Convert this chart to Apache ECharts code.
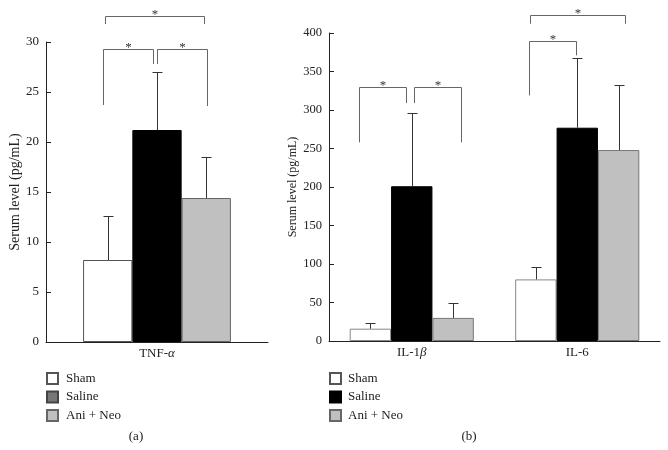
<!DOCTYPE html>
<html>
<head>
<meta charset="utf-8">
<script src="https://cdn.jsdelivr.net/npm/echarts@6/dist/echarts.min.js"></script>
<style>html,body{margin:0;padding:0;background:#fff}#c{width:668px;height:450px}</style>
</head>
<body>
<div id="c"></div>
<script>
// ---- data ----
const categoriesA = ['TNF-α'];
const categoriesB = ['IL-1β', 'IL-6'];
const groupNames = ['Sham', 'Saline', 'Ani + Neo'];
const yTicksA = [0, 5, 10, 15, 20, 25, 30];
const yTicksB = [0, 50, 100, 150, 200, 250, 300, 350, 400];

const shamA = [8.2];
const salineA = [21.2];
const aniA = [14.4];
const shamErrA = [4.4];
const salineErrA = [5.8];
const aniErrA = [4.1];

const shamB = [16, 80];
const salineB = [201, 277];
const aniB = [30, 248];
const shamErrB = [7, 16];
const salineErrB = [95, 91];
const aniErrB = [20, 85];

// significance brackets: [category, fromBar, toBar, top, leftLegEnd, rightLegEnd]
const bracketsA = [
  [0, -1.05, 0.96, 32.6, 31.8, 31.8],
  [0, -1.1, -0.09, 29.3, 23.7, 27.8],
  [0, -0.01, 1.01, 29.3, 27.8, 23.6]
];
const bracketsB = [
  [0, -1.27, -0.13, 330, 258, 309],
  [0, 0.05, 1.2, 330, 309, 258],
  [1, -1.15, 1.15, 423, 412, 412],
  [1, -1.17, -0.02, 390, 319, 371]
];

// ---- chart ----
const FONT = '"Liberation Serif", "DejaVu Serif", serif';
const gapA = 0.334, gapB = 0.25;

function greekFmt(v) {
  return v.replace(/([αβ])/g, '{i|$1}');
}

function errRender(gap) {
  return function (params, api) {
    const c = api.value(0), v = api.value(1), e = api.value(2), off = api.value(3);
    const band = api.size([1, 0])[0];
    const bw = band * (1 - gap) / 3;
    const x = Math.round(api.coord([c, 0])[0] + off * bw) + 0.5;
    const y0 = api.coord([c, v])[1];
    const y1 = Math.round(api.coord([c, v + e])[1]) + 0.5;
    return {
      type: 'group',
      children: [
        { type: 'line', shape: { x1: x, y1: y0, x2: x, y2: y1 }, style: { stroke: '#333', lineWidth: 1 } },
        { type: 'line', shape: { x1: x - 5, y1: y1, x2: x + 5, y2: y1 }, style: { stroke: '#333', lineWidth: 1 } }
      ]
    };
  };
}

function bracketRender(gap) {
  return function (params, api) {
    const c = api.value(0);
    const band = api.size([1, 0])[0];
    const bw = band * (1 - gap) / 3;
    const cx = api.coord([c, 0])[0];
    const x1 = Math.round(cx + api.value(1) * bw) + 0.5;
    const x2 = Math.round(cx + api.value(2) * bw) + 0.5;
    const yt = Math.round(api.coord([c, api.value(3)])[1]) + 0.5;
    const yl = api.coord([c, api.value(4)])[1];
    const yr = api.coord([c, api.value(5)])[1];
    return {
      type: 'group',
      children: [
        { type: 'polyline', shape: { points: [[x1, yl], [x1, yt], [x2, yt], [x2, yr]] },
          style: { stroke: '#666', fill: null, lineWidth: 1 } },
        { type: 'text', style: { text: '*', x: (x1 + x2) / 2, y: yt - 2, align: 'center', verticalAlign: 'middle',
          fontSize: 13, fontFamily: FONT, fill: '#333' } }
      ]
    };
  };
}

function errData(vals, errs, off) {
  return vals.map((v, i) => [i, v, errs[i], off]);
}

const chart = echarts.init(document.getElementById('c'), null, { renderer: 'canvas' });

const barStyles = [
  { color: '#ffffff', borderColor: '#555', borderWidth: 1 },
  { color: '#000000', borderColor: '#000', borderWidth: 1 },
  { color: '#c0c0c0', borderColor: '#666', borderWidth: 1 }
];
const barStylesB = [
  { color: '#ffffff', borderColor: '#888', borderWidth: 1 },
  { color: '#000000', borderColor: '#000', borderWidth: 1 },
  { color: '#c0c0c0', borderColor: '#777', borderWidth: 1 }
];

const valsA = [shamA, salineA, aniA], errsA = [shamErrA, salineErrA, aniErrA];
const valsB = [shamB, salineB, aniB], errsB = [shamErrB, salineErrB, aniErrB];

const series = [];
groupNames.forEach((n, k) => {
  series.push({ type: 'bar', name: n, xAxisIndex: 0, yAxisIndex: 0, data: valsA[k],
    barGap: '0%', barCategoryGap: (gapA * 100) + '%', itemStyle: barStyles[k], silent: true, animation: false });
});
groupNames.forEach((n, k) => {
  series.push({ type: 'bar', name: n, xAxisIndex: 1, yAxisIndex: 1, data: valsB[k],
    barGap: '0%', barCategoryGap: (gapB * 100) + '%', itemStyle: barStylesB[k], silent: true, animation: false });
});
groupNames.forEach((n, k) => {
  series.push({ type: 'custom', xAxisIndex: 0, yAxisIndex: 0, renderItem: errRender(gapA), z: 5,
    data: errData(valsA[k], errsA[k], k - 1), encode: { x: 0, y: 1 }, silent: true, animation: false });
  series.push({ type: 'custom', xAxisIndex: 1, yAxisIndex: 1, renderItem: errRender(gapB), z: 5,
    data: errData(valsB[k], errsB[k], k - 1), encode: { x: 0, y: 1 }, silent: true, animation: false });
});
series.push({ type: 'custom', xAxisIndex: 0, yAxisIndex: 0, renderItem: bracketRender(gapA), z: 6, clip: false,
  data: bracketsA, encode: { x: 0, y: 3 }, silent: true, animation: false });
series.push({ type: 'custom', xAxisIndex: 1, yAxisIndex: 1, renderItem: bracketRender(gapB), z: 6, clip: false,
  data: bracketsB, encode: { x: 0, y: 3 }, silent: true, animation: false });

function xAxisCfg(idx, cats) {
  return {
    type: 'category', gridIndex: idx, data: cats,
    axisLine: { lineStyle: { color: '#222', width: 1 } },
    axisTick: { show: false },
    axisLabel: { fontFamily: FONT, fontSize: 13, color: '#222', margin: 5, formatter: greekFmt,
      rich: { i: { fontStyle: 'italic', fontFamily: FONT, fontSize: 13, color: '#222' } } }
  };
}
function yAxisCfg(idx, ticks, fs, nfs, gap) {
  return {
    type: 'value', gridIndex: idx, min: ticks[0], max: ticks[ticks.length - 1], interval: ticks[1] - ticks[0],
    name: 'Serum level (pg/mL)', nameLocation: 'middle', nameGap: gap,
    nameTextStyle: { fontFamily: FONT, fontSize: nfs, color: '#222' },
    axisLine: { show: true, lineStyle: { color: '#222', width: 1 } },
    axisTick: { show: true, inside: true, length: 5, lineStyle: { color: '#222' } },
    axisLabel: { fontFamily: FONT, fontSize: fs, color: '#222', margin: 7 },
    splitLine: { show: false }
  };
}

const legendBase = {
  orient: 'vertical', itemWidth: 11, itemHeight: 11, itemGap: 5.5, padding: 0, icon: 'rect',
  selectedMode: false,
  textStyle: { fontFamily: FONT, fontSize: 13, color: '#222' }
};

chart.setOption({
  animation: false,
  grid: [
    { left: 46, right: 400, top: 42, bottom: 108 },
    { left: 329, right: 8, top: 33, bottom: 109 }
  ],
  xAxis: [xAxisCfg(0, categoriesA), xAxisCfg(1, categoriesB)],
  yAxis: [yAxisCfg(0, yTicksA, 13, 14, 24), yAxisCfg(1, yTicksB, 12.5, 12, 30)],
  legend: [
    Object.assign({}, legendBase, { left: 46, top: 372,
      data: [{ name: 'Sham' }, { name: 'Saline', itemStyle: { color: '#777', borderColor: '#444' } }, { name: 'Ani + Neo' }],
      textStyle: Object.assign({}, legendBase.textStyle, { padding: [0, 0, 0, 3] }) }),
    Object.assign({}, legendBase, { left: 329, top: 372,
      data: [{ name: 'Sham' }, { name: 'Saline' }, { name: 'Ani + Neo' }],
      textStyle: Object.assign({}, legendBase.textStyle, { padding: [0, 0, 0, 2] }) })
  ],
  graphic: [
    { type: 'text', x: 136, y: 437, style: { text: '(a)', align: 'center', verticalAlign: 'middle', fontFamily: FONT, fontSize: 13, fill: '#222' } },
    { type: 'text', x: 469, y: 437, style: { text: '(b)', align: 'center', verticalAlign: 'middle', fontFamily: FONT, fontSize: 13, fill: '#222' } }
  ],
  series: series
});
</script>
</body>
</html>
